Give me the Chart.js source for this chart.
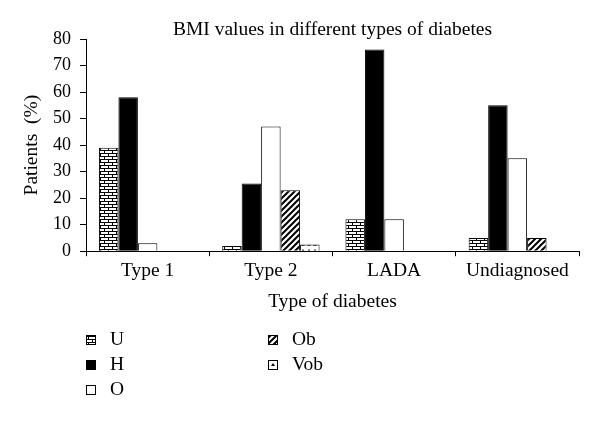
<!DOCTYPE html>
<html>
<head>
<meta charset="utf-8">
<script src="https://cdn.jsdelivr.net/npm/chart.js@4/dist/chart.umd.min.js"></script>
<style>
  html, body { margin: 0; padding: 0; background: #fff; }
  #wrap { position: relative; width: 600px; height: 421px; }
</style>
</head>
<body>
<div id="wrap"><canvas id="c" width="600" height="421"></canvas></div>
<script>
const titleText = 'BMI values in different types of diabetes';
const xTitle = 'Type of diabetes';
const yTitle = 'Patients  (%)';
const categories = ['Type 1', 'Type 2', 'LADA', 'Undiagnosed'];
const seriesNames = ['U', 'H', 'O', 'Ob', 'Vob'];
const U   = [39, 2, 12, 5];
const H   = [58, 25.5, 76, 55];
const O   = [3, 47, 12, 35];
const Ob  = [0, 23, 0, 5];
const Vob = [0, 2.5, 0, 0];
const yTickValues = [0, 10, 20, 30, 40, 50, 60, 70, 80];

function tile(w, h, draw) {
  const c = document.createElement('canvas');
  c.width = w; c.height = h;
  const g = c.getContext('2d');
  g.fillStyle = '#fff'; g.fillRect(0, 0, w, h);
  g.fillStyle = '#000'; g.strokeStyle = '#000';
  draw(g);
  return document.getElementById('c').getContext('2d').createPattern(c, 'repeat');
}
const brick = tile(8, 6, g => {
  g.fillRect(0, 0, 8, 1); g.fillRect(0, 3, 8, 1);
  g.fillRect(0, 0, 1, 3); g.fillRect(4, 3, 1, 3);
});
const diag = tile(6, 6, g => {
  g.lineWidth = 2;
  g.beginPath();
  g.moveTo(-1, 7); g.lineTo(7, -1);
  g.moveTo(-1, 1); g.lineTo(1, -1);
  g.moveTo(5, 7); g.lineTo(7, 5);
  g.stroke();
});
const hour = tile(6, 6, g => {
  g.beginPath();
  g.moveTo(1, 6); g.lineTo(5, 6); g.lineTo(3, 3); g.closePath();
  g.fill();
});

const fills = [brick, '#000', '#fff', diag, hour];
const values = [U, H, O, Ob, Vob];

const font = "'Liberation Serif', 'Times New Roman', serif";
const textSize = 19.5;
Chart.defaults.font.family = font;
Chart.defaults.font.size = textSize;
Chart.defaults.color = '#000';

const decor = {
  id: 'decor',
  afterDraw(chart) {
    const ctx = chart.ctx, a = chart.chartArea;
    ctx.save();
    ctx.fillStyle = '#000';
    ctx.font = textSize + 'px ' + font;
    ctx.textAlign = 'center';
    ctx.textBaseline = 'middle';
    ctx.fillText(titleText, (a.left + a.right) / 2, 30);
    // legend in two columns
    const pos = [[86, 340], [86, 365], [86, 390], [268, 340], [268, 365]];
    ctx.textAlign = 'left';
    chart.data.datasets.forEach((ds, i) => {
      const [x, y] = pos[i];
      ctx.fillStyle = ds.backgroundColor;
      ctx.fillRect(x, y - 5, 10, 10);
      ctx.strokeStyle = '#000'; ctx.lineWidth = 1;
      ctx.strokeRect(x + 0.5, y - 4.5, 9, 9);
      ctx.fillStyle = '#000';
      ctx.fillText(ds.label, x + 24, y);
    });
    ctx.restore();
  }
};

new Chart(document.getElementById('c'), {
  type: 'bar',
  data: {
    labels: categories,
    datasets: seriesNames.map((n, i) => ({
      label: n,
      data: values[i],
      backgroundColor: fills[i],
      borderColor: '#000',
      borderWidth: 1,
      borderSkipped: 'bottom',
      categoryPercentage: 0.79,
      barPercentage: 1.0
    }))
  },
  options: {
    responsive: false,
    animation: false,
    devicePixelRatio: 1,
    layout: { padding: { left: 20, right: 21, top: 39, bottom: 103 } },
    plugins: { legend: { display: false }, title: { display: false }, tooltip: { enabled: false } },
    scales: {
      x: {
        grid: { drawOnChartArea: false, drawTicks: true, tickLength: 5, color: '#000', offset: true },
        border: { display: true, color: '#000', width: 1 },
        ticks: { padding: 3, maxRotation: 0 },
        title: { display: true, text: xTitle, padding: { top: 5, bottom: 4 } }
      },
      y: {
        min: 0, max: 80,
        afterBuildTicks: axis => { axis.ticks = yTickValues.map(v => ({ value: v })); },
        grid: { drawOnChartArea: false, drawTicks: true, tickLength: 6, color: '#000' },
        border: { display: true, color: '#000', width: 1 },
        ticks: { padding: 9, font: { size: 18 } },
        title: { display: true, text: yTitle, padding: { top: 0, bottom: 0.6 } }
      }
    }
  },
  plugins: [decor]
});
</script>
</body>
</html>
